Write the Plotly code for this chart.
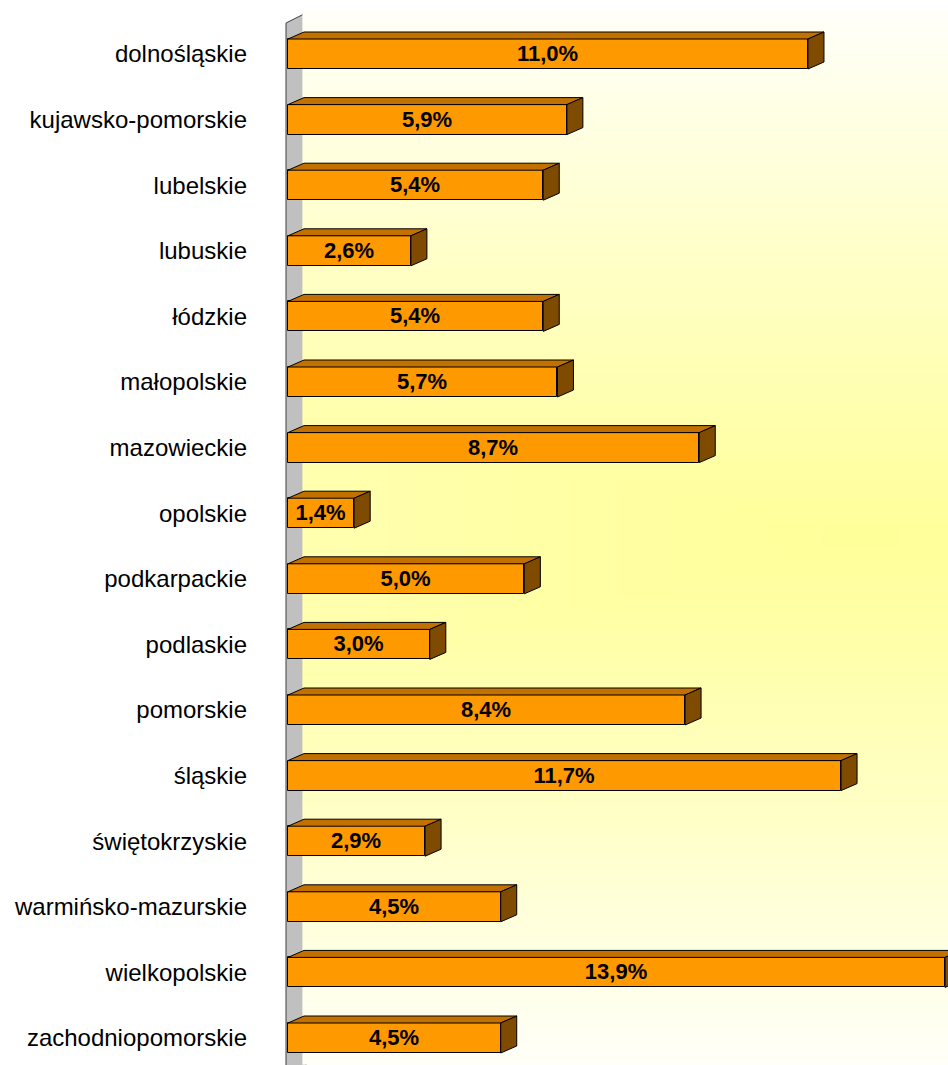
import numpy as np
import plotly.graph_objects as go

# ---- data ----
regions = ["dolnośląskie", "kujawsko-pomorskie", "lubelskie", "lubuskie", "łódzkie",
           "małopolskie", "mazowieckie", "opolskie", "podkarpackie", "podlaskie",
           "pomorskie", "śląskie", "świętokrzyskie", "warmińsko-mazurskie",
           "wielkopolskie", "zachodniopomorskie"]
shares = [11.0, 5.9, 5.4, 2.6, 5.4, 5.7, 8.7, 1.4, 5.0, 3.0, 8.4, 11.7, 2.9, 4.5, 13.9, 4.5]

# ---- geometry (page pixel based; body margin removed by post_script) ----
W, H = 948, 1065
ML = 280                 # left margin px
X0PX = 288               # pixel of value 0
PXX = 47.27              # px per percent
Y0PX = 54                # pixel centre of first category
PXY = 65.6               # px per category
xr = [(ML - X0PX) / PXX, (W - X0PX) / PXX]
yr = [(H - Y0PX) / PXY, (0 - Y0PX) / PXY]   # reversed


def ux(px):
    return (px - X0PX) / PXX


def uy(px):
    return (px - Y0PX) / PXY


bw = 30 / PXY
dxu = 16 / PXX
dyu = 7 / PXY
ypos = list(range(len(regions)))

fig = go.Figure()

# background gradient (back wall)
gx = np.linspace(ux(306), xr[1], 90)
gy = np.linspace(uy(13), yr[0], 160)
GX, GY = np.meshgrid(gx * PXX + X0PX, gy * PXY + Y0PX)
t = 1 - np.maximum(np.abs(GY - 538) / 520, np.abs(GX - 860) / 2200)
t = np.clip(t, 0, 1)
fig.add_trace(go.Heatmap(x=gx, y=gy, z=t, zmin=0, zmax=1, zsmooth="best",
                         colorscale=[[0, "#FFFFF8"], [0.5, "#FFFFC4"], [1, "#FFFF99"]],
                         showscale=False, hoverinfo="skip"))

# front faces
fig.add_trace(go.Bar(
    y=ypos, x=shares, orientation="h", width=bw,
    marker=dict(color="#FF9900", line=dict(color="#000000", width=1)),
    texttemplate="%{x:.1f}%", textposition="inside", insidetextanchor="middle",
    constraintext="none", textangle=0,
    textfont=dict(family="Liberation Sans, Arial", size=22, color="#000000", weight="bold"),
    hoverinfo="skip", cliponaxis=False))

# top and side faces
tx, ty, sx, sy = [], [], [], []
for i, v in zip(ypos, shares):
    yt, yb = i - bw / 2, i + bw / 2
    tx += [0, v, v + dxu, dxu, 0, None]
    ty += [yt, yt, yt - dyu, yt - dyu, yt, None]
    sx += [v, v + dxu, v + dxu, v, v, None]
    sy += [yt, yt - dyu, yb - dyu, yb, yt, None]
fig.add_trace(go.Scatter(x=tx, y=ty, mode="lines", fill="toself", fillcolor="#C27100",
                         line=dict(color="#000000", width=1), hoverinfo="skip"))
fig.add_trace(go.Scatter(x=sx, y=sy, mode="lines", fill="toself", fillcolor="#7F4B00",
                         line=dict(color="#000000", width=1), hoverinfo="skip"))

# grey wall
wl, wr = ux(286), ux(306)
path = (f"M {wl},{uy(23)} L {wr},{uy(13)} L {wr},{uy(1075)} L {wl},{uy(1085)} Z")
fig.add_shape(type="path", path=path, xref="x", yref="y", layer="below",
              fillcolor="#C0C0C0", line=dict(color="#404040", width=1))

fig.update_layout(
    width=W, height=H, margin=dict(l=ML, r=0, t=0, b=0),
    plot_bgcolor="#FFFFFF", paper_bgcolor="#FFFFFF",
    showlegend=False, separators=",.", bargap=0,
    xaxis=dict(range=xr, visible=False, fixedrange=True),
    yaxis=dict(range=yr, tickvals=ypos, ticktext=regions, showgrid=False,
               zeroline=False, showline=False, ticks="", ticklabelstandoff=32,
               fixedrange=True,
               tickfont=dict(family="Liberation Sans, Arial", size=24, color="#000000")),
)

fig.write_html("out.html", config={"displayModeBar": False},
               post_script="document.body.style.margin='0';document.body.style.overflow='hidden';")
